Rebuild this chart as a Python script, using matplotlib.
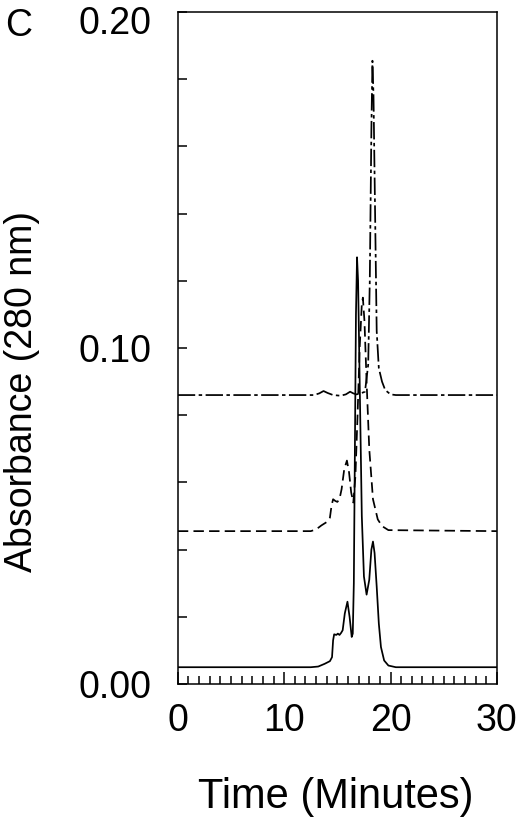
import matplotlib
matplotlib.use('Agg')
import matplotlib.pyplot as plt
import matplotlib.transforms as mtransforms
from matplotlib.ticker import MultipleLocator

plt.rcParams['font.family'] = ['Liberation Sans', 'DejaVu Sans']

# ── Data (time in min, absorbance at 280 nm) ─────────────────────────────────
t_solid = [0, 12.5, 13.2, 13.8, 14.3, 14.5, 14.6, 14.7, 14.9, 15.05, 15.2, 15.35,
           15.5, 15.7, 15.95, 16.15, 16.35, 16.45, 16.55, 16.65, 16.75, 16.85,
           16.95, 17.1, 17.3, 17.5, 17.75, 18.0, 18.2, 18.35, 18.5, 18.7, 18.9,
           19.1, 19.4, 19.8, 20.5, 30]
a_solid = [0.0050, 0.0050, 0.0052, 0.0060, 0.0068, 0.0080, 0.0130, 0.0148, 0.0146,
           0.0150, 0.0146, 0.0152, 0.0160, 0.0210, 0.0245, 0.0200, 0.0140, 0.0150,
           0.0300, 0.0700, 0.1100, 0.1270, 0.1200, 0.0900, 0.0500, 0.0320, 0.0266,
           0.0310, 0.0400, 0.0424, 0.0390, 0.0290, 0.0180, 0.0110, 0.0070, 0.0055,
           0.0050, 0.0050]

t_dash = [0, 12.5, 13.0, 13.5, 14.0, 14.3, 14.45, 14.6, 14.8, 15.0, 15.2, 15.4,
          15.65, 15.9, 16.1, 16.3, 16.5, 16.7, 16.9, 17.1, 17.3, 17.4, 17.55, 17.75,
          18.0, 18.35, 18.8, 19.2, 19.8, 30]
a_dash = [0.0455, 0.0455, 0.0460, 0.0472, 0.0482, 0.0495, 0.0530, 0.0550, 0.0545,
          0.0542, 0.0550, 0.0580, 0.0640, 0.0665, 0.0630, 0.0570, 0.0540, 0.0620,
          0.0800, 0.1000, 0.1130, 0.1150, 0.1080, 0.0900, 0.0700, 0.0550, 0.0490,
          0.0470, 0.0458, 0.0455]

t_dashdot = [0, 12.8, 13.3, 13.7, 14.1, 14.6, 15.3, 15.8, 16.2, 16.5, 16.8, 17.2,
             17.6, 17.9, 18.05, 18.2, 18.3, 18.4, 18.55, 18.7, 18.9, 19.2, 19.5,
             20.0, 20.5, 30]
a_dashdot = [0.0860, 0.0860, 0.0865, 0.0872, 0.0866, 0.0860, 0.0858, 0.0862, 0.0870,
             0.0865, 0.0862, 0.0865, 0.0870, 0.0950, 0.1200, 0.1650, 0.1855, 0.1750,
             0.1400, 0.1050, 0.0940, 0.0900, 0.0875, 0.0862, 0.0860, 0.0860]

y_ticklabels = ['0.00', '0.10', '0.20']
x_ticklabels = ['0', '10', '20', '30']

# ── Figure ───────────────────────────────────────────────────────────────────
fig = plt.figure(figsize=(5.2, 8.18), dpi=100)
ax = fig.add_axes([0.342, 0.1638, 0.6135, 0.8215])

lw = 1.25
ax.plot(t_solid, a_solid, color='black', lw=lw, ls='-')
ax.plot(t_dash, a_dash, color='black', lw=lw, ls=(0, (6, 3)))
ax.plot(t_dashdot, a_dashdot, color='black', lw=lw, ls=(0, (10, 2, 2, 2)))

ax.set_xlim(0, 30)
ax.set_ylim(0, 0.20)

for sp in ax.spines.values():
    sp.set_linewidth(1.1)

ax.xaxis.set_minor_locator(MultipleLocator(1))
ax.yaxis.set_minor_locator(MultipleLocator(0.02))
ax.set_xticks([0, 10, 20, 30])
ax.set_xticklabels(x_ticklabels)
ax.set_yticks([0.0, 0.1, 0.2])
ax.set_yticklabels(y_ticklabels)

ax.tick_params(axis='x', which='major', direction='in', length=8.6, width=1.1,
               labelsize=27, pad=14, top=False)
ax.tick_params(axis='x', which='minor', direction='in', length=5.8, width=1.1, top=False)
ax.tick_params(axis='y', which='major', direction='in', length=6.5, width=1.1,
               labelsize=27, pad=19, right=False)
ax.tick_params(axis='y', which='minor', direction='in', length=6.5, width=1.1, right=False)

# top label sits a little below its tick in the original, keep it inside the figure
shift = mtransforms.ScaledTranslation(0, -6 / 72, fig.dpi_scale_trans)
top_lbl = ax.get_yticklabels()[-1]
top_lbl.set_transform(top_lbl.get_transform() + shift)

fig.text(0.042, 0.522, 'Absorbance (280 nm)', rotation=90, ha='center', va='center',
         fontsize=27)
fig.text(0.646, 0.026, 'Time (Minutes)', ha='center', va='center', fontsize=30)
fig.text(0.035, 0.968, 'C', ha='center', va='center', fontsize=27)

fig.savefig('out.png', dpi=100)
